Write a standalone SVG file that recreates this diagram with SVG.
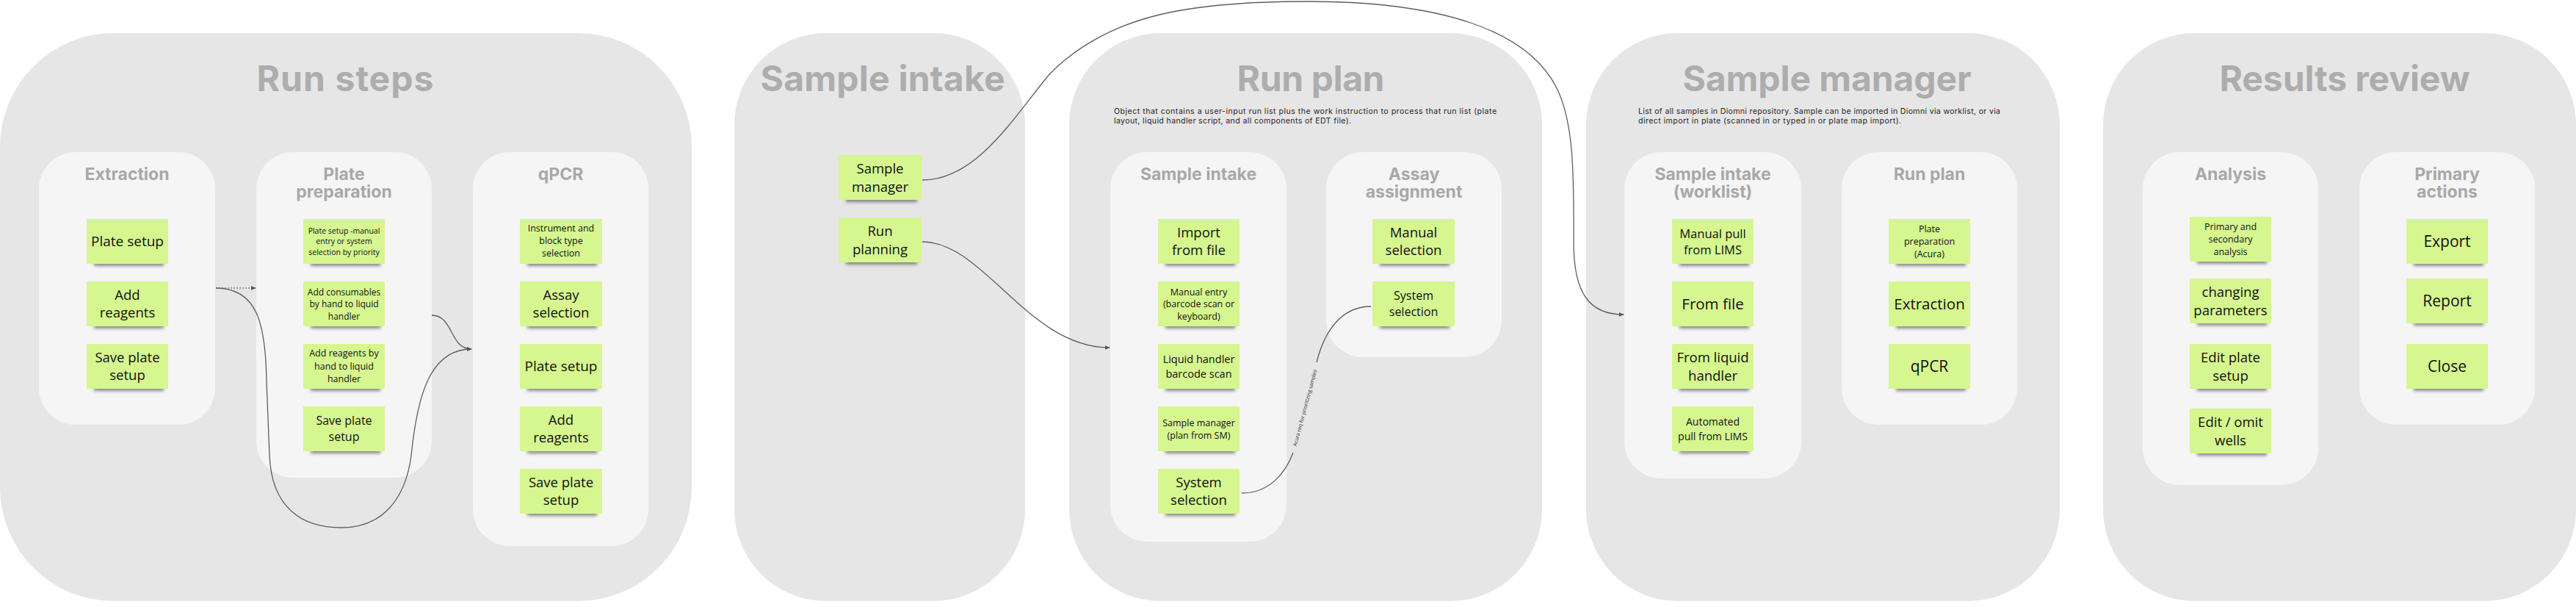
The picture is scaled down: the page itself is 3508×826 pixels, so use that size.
<svg xmlns="http://www.w3.org/2000/svg" width="3508" height="826" viewBox="0 0 3508 826">
<defs>
<style>
.main{fill:#e6e6e6}
.sub{fill:#f5f5f5}
.st{fill:#d6f690}
.sh{fill:#333;opacity:.55;filter:url(#blur)}
.t{font-family:"Open Sans","Noto Sans",sans-serif;fill:#111;text-anchor:middle}
.mt{font-family:Inter,"Liberation Sans",sans-serif;font-weight:700;font-size:48px;fill:#adadad;text-anchor:middle}
.pt{font-family:Inter,"Liberation Sans",sans-serif;font-weight:700;font-size:23px;fill:#a8a8a8;text-anchor:middle}
.ds{font-family:Inter,"Liberation Sans",sans-serif;font-size:10.5px;fill:#222}
.cn{fill:none;stroke:#5e5e5e;stroke-width:1.3}
.dot{fill:none;stroke:#888;stroke-width:1.3;stroke-dasharray:2 2}
.lbl{font-family:"Open Sans","Noto Sans",sans-serif;font-size:7px;fill:#333;text-anchor:middle;dominant-baseline:central}
</style>
<filter id="blur" x="-20%" y="-100%" width="140%" height="300%"><feGaussianBlur stdDeviation="2.2"/></filter>
<marker id="arr" viewBox="0 0 10 10" refX="9" refY="5" markerWidth="7" markerHeight="7" markerUnits="userSpaceOnUse" orient="auto"><path d="M0,1 L10,5 L0,9 z" fill="#555"/></marker>
</defs>
<rect width="3508" height="826" fill="#ffffff"/>

<!-- main panels -->
<g id="panel-run-steps"><rect class="main" x="0" y="45" width="942" height="773" rx="155"/><text class="mt" x="470" y="124" textLength="241">Run steps</text></g>
<g id="panel-sample-intake"><rect class="main" x="1000" y="45" width="396" height="773" rx="125"/><text class="mt" x="1202" y="124" textLength="333">Sample intake</text></g>
<g id="panel-run-plan"><rect class="main" x="1456" y="45" width="644" height="773" rx="125"/><text class="mt" x="1785" y="124" textLength="201">Run plan</text>
<text class="ds" x="1517" y="155" textLength="521">Object that contains a user-input run list plus the work instruction to process that run list (plate</text>
<text class="ds" x="1517" y="168" textLength="323">layout, liquid handler script, and all components of EDT file).</text></g>
<g id="panel-sample-manager"><rect class="main" x="2160" y="45" width="645" height="773" rx="125"/><text class="mt" x="2488" y="124" textLength="393">Sample manager</text>
<text class="ds" x="2231" y="155" textLength="493">List of all samples in Diomni repository. Sample can be imported in Diomni via worklist, or via</text>
<text class="ds" x="2231" y="168" textLength="358">direct import in plate (scanned in or typed in or plate map import).</text></g>
<g id="panel-results-review"><rect class="main" x="2864" y="45" width="644" height="773" rx="125"/><text class="mt" x="3193" y="124" textLength="341">Results review</text></g>

<!-- sub panels -->
<g id="sub-extraction"><rect class="sub" x="53" y="207" width="240" height="371" rx="50"/><text class="pt" x="173" y="245">Extraction</text></g>
<g id="sub-plate-prep"><rect class="sub" x="349" y="207" width="239" height="443" rx="50"/><text class="pt" x="468.5" y="245">Plate</text><text class="pt" x="468.5" y="269">preparation</text></g>
<g id="sub-qpcr"><rect class="sub" x="644" y="207" width="239" height="536" rx="50"/><text class="pt" x="763.5" y="245">qPCR</text></g>
<g id="sub-rp-sample-intake"><rect class="sub" x="1512" y="207" width="240" height="530" rx="50"/><text class="pt" x="1632" y="245">Sample intake</text></g>
<g id="sub-assay"><rect class="sub" x="1806" y="207" width="239" height="279" rx="50"/><text class="pt" x="1925.5" y="245">Assay</text><text class="pt" x="1925.5" y="269">assignment</text></g>
<g id="sub-sm-sample-intake"><rect class="sub" x="2212" y="207" width="241" height="444" rx="50"/><text class="pt" x="2332.5" y="245">Sample intake</text><text class="pt" x="2332.5" y="269">(worklist)</text></g>
<g id="sub-sm-run-plan"><rect class="sub" x="2508" y="207" width="239" height="371" rx="50"/><text class="pt" x="2627.5" y="245">Run plan</text></g>
<g id="sub-analysis"><rect class="sub" x="2918" y="207" width="239" height="453" rx="50"/><text class="pt" x="3037.5" y="245">Analysis</text></g>
<g id="sub-primary-actions"><rect class="sub" x="3213" y="207" width="239" height="371" rx="50"/><text class="pt" x="3332.5" y="245">Primary</text><text class="pt" x="3332.5" y="269">actions</text></g>

<!-- connectors -->
<g id="connectors">
<path class="dot" d="M294,392 L348,392" marker-end="url(#arr)"/>
<path class="cn" d="M294,392 C350,392 362,440 363,520 L367,620 C370,690 410,718 465,718 C520,718 552,680 560,620 C568,540 585,475 642,475" marker-end="url(#arr)"/>
<path class="cn" d="M588,429 C618,429 612,475 642,475" marker-end="url(#arr)"/>
<path class="cn" d="M1256,245 C1330,245 1380,160 1430,100 C1510,20 1620,2 1780,2 C1960,2 2080,40 2120,120 C2145,170 2143,250 2143,330 C2143,400 2165,428 2211,428" marker-end="url(#arr)"/>
<path class="cn" d="M1256,329 C1340,329 1400,473 1511,473" marker-end="url(#arr)"/>
<path class="cn" d="M1691,671 C1728,671 1750,645 1761,616"/>
<path class="cn" d="M1793,493 C1803,453 1825,417 1867,417"/>
<text class="lbl" transform="translate(1777,555) rotate(-75)" textLength="108">Acura req for prioritizing samples</text>
</g>

<!-- stickies: Run steps / Extraction -->
<g id="ext-plate-setup"><rect class="sh" x="128" y="353" width="95" height="9"/><rect class="st" x="118" y="298" width="111" height="61"/><text class="t" x="173.5" y="335" font-size="19">Plate setup</text></g>
<g id="ext-add-reagents"><rect class="sh" x="128" y="438" width="95" height="9"/><rect class="st" x="118" y="383" width="111" height="61"/><text class="t" x="173.5" font-size="18.5"><tspan x="173.5" y="408">Add</tspan><tspan x="173.5" y="432">reagents</tspan></text></g>
<g id="ext-save-plate"><rect class="sh" x="128" y="523" width="95" height="9"/><rect class="st" x="118" y="468" width="111" height="61"/><text class="t" font-size="18.5"><tspan x="173.5" y="493">Save plate</tspan><tspan x="173.5" y="517">setup</tspan></text></g>

<!-- Plate preparation -->
<g id="pp-plate-setup"><rect class="sh" x="423" y="353" width="95" height="9"/><rect class="st" x="413" y="298" width="111" height="61"/><text class="t" font-size="10.5"><tspan x="468.5" y="317.5">Plate setup -manual</tspan><tspan x="468.5" y="332">entry or system</tspan><tspan x="468.5" y="346.5">selection by priority</tspan></text></g>
<g id="pp-add-consumables"><rect class="sh" x="423" y="438" width="95" height="9"/><rect class="st" x="413" y="383" width="111" height="61"/><text class="t" font-size="12"><tspan x="468.5" y="401.5">Add consumables</tspan><tspan x="468.5" y="418">by hand to liquid</tspan><tspan x="468.5" y="434.5">handler</tspan></text></g>
<g id="pp-add-reagents"><rect class="sh" x="423" y="523" width="95" height="9"/><rect class="st" x="413" y="468" width="111" height="61"/><text class="t" font-size="12.5"><tspan x="468.5" y="485">Add reagents by</tspan><tspan x="468.5" y="502.5">hand to liquid</tspan><tspan x="468.5" y="520">handler</tspan></text></g>
<g id="pp-save-plate"><rect class="sh" x="423" y="608" width="95" height="9"/><rect class="st" x="413" y="553" width="111" height="61"/><text class="t" font-size="16"><tspan x="468.5" y="578">Save plate</tspan><tspan x="468.5" y="600">setup</tspan></text></g>

<!-- qPCR -->
<g id="q-instrument"><rect class="sh" x="718" y="353" width="95" height="9"/><rect class="st" x="708" y="298" width="112" height="61"/><text class="t" font-size="12.5"><tspan x="764" y="315">Instrument and</tspan><tspan x="764" y="332">block type</tspan><tspan x="764" y="349">selection</tspan></text></g>
<g id="q-assay"><rect class="sh" x="718" y="438" width="95" height="9"/><rect class="st" x="708" y="383" width="112" height="61"/><text class="t" font-size="18.5"><tspan x="764" y="408">Assay</tspan><tspan x="764" y="432">selection</tspan></text></g>
<g id="q-plate-setup"><rect class="sh" x="718" y="523" width="95" height="9"/><rect class="st" x="708" y="468" width="112" height="61"/><text class="t" x="764" y="505" font-size="19">Plate setup</text></g>
<g id="q-add-reagents"><rect class="sh" x="718" y="608" width="95" height="9"/><rect class="st" x="708" y="553" width="112" height="61"/><text class="t" font-size="18.5"><tspan x="764" y="578">Add</tspan><tspan x="764" y="602">reagents</tspan></text></g>
<g id="q-save-plate"><rect class="sh" x="718" y="693" width="95" height="9"/><rect class="st" x="708" y="638" width="112" height="61"/><text class="t" font-size="18.5"><tspan x="764" y="663">Save plate</tspan><tspan x="764" y="687">setup</tspan></text></g>

<!-- Sample intake -->
<g id="si-sample-manager"><rect class="sh" x="1152" y="266" width="97" height="9"/><rect class="st" x="1142" y="211" width="113" height="61"/><text class="t" font-size="18.5"><tspan x="1198.5" y="235.5">Sample</tspan><tspan x="1198.5" y="260.5">manager</tspan></text></g>
<g id="si-run-planning"><rect class="sh" x="1152" y="351" width="97" height="9"/><rect class="st" x="1142" y="296" width="113" height="61"/><text class="t" font-size="18.5"><tspan x="1198.5" y="320.5">Run</tspan><tspan x="1198.5" y="345.5">planning</tspan></text></g>

<!-- Run plan / Sample intake -->
<g id="rp-import"><rect class="sh" x="1587" y="353" width="95" height="9"/><rect class="st" x="1577" y="298" width="111" height="61"/><text class="t" font-size="18.5"><tspan x="1632.5" y="323">Import</tspan><tspan x="1632.5" y="347">from file</tspan></text></g>
<g id="rp-manual-entry"><rect class="sh" x="1587" y="438" width="95" height="9"/><rect class="st" x="1577" y="383" width="111" height="61"/><text class="t" font-size="12.5"><tspan x="1632.5" y="401.5">Manual entry</tspan><tspan x="1632.5" y="418">(barcode scan or</tspan><tspan x="1632.5" y="434.5">keyboard)</tspan></text></g>
<g id="rp-liquid-handler"><rect class="sh" x="1587" y="523" width="95" height="9"/><rect class="st" x="1577" y="468" width="111" height="61"/><text class="t" font-size="14.5"><tspan x="1632.5" y="494">Liquid handler</tspan><tspan x="1632.5" y="513.5">barcode scan</tspan></text></g>
<g id="rp-sample-manager"><rect class="sh" x="1587" y="608" width="95" height="9"/><rect class="st" x="1577" y="553" width="111" height="61"/><text class="t" font-size="12.5"><tspan x="1632.5" y="579.5">Sample manager</tspan><tspan x="1632.5" y="596.5">(plan from SM)</tspan></text></g>
<g id="rp-system-selection"><rect class="sh" x="1587" y="693" width="95" height="9"/><rect class="st" x="1577" y="638" width="111" height="61"/><text class="t" font-size="18.5"><tspan x="1632.5" y="663">System</tspan><tspan x="1632.5" y="687">selection</tspan></text></g>

<!-- Assay assignment -->
<g id="aa-manual"><rect class="sh" x="1879" y="353" width="95" height="9"/><rect class="st" x="1869" y="298" width="112" height="61"/><text class="t" font-size="18.5"><tspan x="1925" y="323">Manual</tspan><tspan x="1925" y="347">selection</tspan></text></g>
<g id="aa-system"><rect class="sh" x="1879" y="438" width="95" height="9"/><rect class="st" x="1869" y="383" width="112" height="61"/><text class="t" font-size="16"><tspan x="1925" y="408">System</tspan><tspan x="1925" y="430">selection</tspan></text></g>

<!-- Sample manager / Sample intake (worklist) -->
<g id="sm-manual-pull"><rect class="sh" x="2287" y="353" width="95" height="9"/><rect class="st" x="2277" y="298" width="111" height="61"/><text class="t" font-size="16.5"><tspan x="2332.5" y="323.5">Manual pull</tspan><tspan x="2332.5" y="345.5">from LIMS</tspan></text></g>
<g id="sm-from-file"><rect class="sh" x="2287" y="438" width="95" height="9"/><rect class="st" x="2277" y="383" width="111" height="61"/><text class="t" x="2332.5" y="421" font-size="20.5">From file</text></g>
<g id="sm-from-liquid"><rect class="sh" x="2287" y="523" width="95" height="9"/><rect class="st" x="2277" y="468" width="111" height="61"/><text class="t" font-size="18.5"><tspan x="2332.5" y="492.5">From liquid</tspan><tspan x="2332.5" y="517.5">handler</tspan></text></g>
<g id="sm-automated"><rect class="sh" x="2287" y="608" width="95" height="9"/><rect class="st" x="2277" y="553" width="111" height="61"/><text class="t" font-size="14"><tspan x="2332.5" y="579">Automated</tspan><tspan x="2332.5" y="598.5">pull from LIMS</tspan></text></g>

<!-- Sample manager / Run plan -->
<g id="smrp-plate-prep"><rect class="sh" x="2582" y="353" width="95" height="9"/><rect class="st" x="2572" y="298" width="111" height="61"/><text class="t" font-size="12.5"><tspan x="2627.5" y="316">Plate</tspan><tspan x="2627.5" y="333">preparation</tspan><tspan x="2627.5" y="350">(Acura)</tspan></text></g>
<g id="smrp-extraction"><rect class="sh" x="2582" y="438" width="95" height="9"/><rect class="st" x="2572" y="383" width="111" height="61"/><text class="t" x="2627.5" y="421" font-size="20.5">Extraction</text></g>
<g id="smrp-qpcr"><rect class="sh" x="2582" y="523" width="95" height="9"/><rect class="st" x="2572" y="468" width="111" height="61"/><text class="t" x="2627.5" y="506" font-size="21">qPCR</text></g>

<!-- Results review / Analysis -->
<g id="an-primary"><rect class="sh" x="2992" y="350" width="95" height="9"/><rect class="st" x="2982" y="295" width="111" height="61"/><text class="t" font-size="12.5"><tspan x="3037.5" y="313">Primary and</tspan><tspan x="3037.5" y="330">secondary</tspan><tspan x="3037.5" y="347">analysis</tspan></text></g>
<g id="an-changing"><rect class="sh" x="2992" y="434" width="95" height="9"/><rect class="st" x="2982" y="379" width="111" height="61"/><text class="t" font-size="18.5"><tspan x="3037.5" y="403.5">changing</tspan><tspan x="3037.5" y="428.5">parameters</tspan></text></g>
<g id="an-edit-plate"><rect class="sh" x="2992" y="523" width="95" height="9"/><rect class="st" x="2982" y="468" width="111" height="61"/><text class="t" font-size="18.5"><tspan x="3037.5" y="492.5">Edit plate</tspan><tspan x="3037.5" y="517.5">setup</tspan></text></g>
<g id="an-edit-omit"><rect class="sh" x="2992" y="611" width="95" height="9"/><rect class="st" x="2982" y="556" width="111" height="61"/><text class="t" font-size="18.5"><tspan x="3037.5" y="580.5">Edit / omit</tspan><tspan x="3037.5" y="605.5">wells</tspan></text></g>

<!-- Results review / Primary actions -->
<g id="pa-export"><rect class="sh" x="3287" y="353" width="95" height="9"/><rect class="st" x="3277" y="298" width="111" height="61"/><text class="t" x="3332.5" y="336" font-size="21">Export</text></g>
<g id="pa-report"><rect class="sh" x="3287" y="434" width="95" height="9"/><rect class="st" x="3277" y="379" width="111" height="61"/><text class="t" x="3332.5" y="417" font-size="21">Report</text></g>
<g id="pa-close"><rect class="sh" x="3287" y="523" width="95" height="9"/><rect class="st" x="3277" y="468" width="111" height="61"/><text class="t" x="3332.5" y="506" font-size="21">Close</text></g>
</svg>
